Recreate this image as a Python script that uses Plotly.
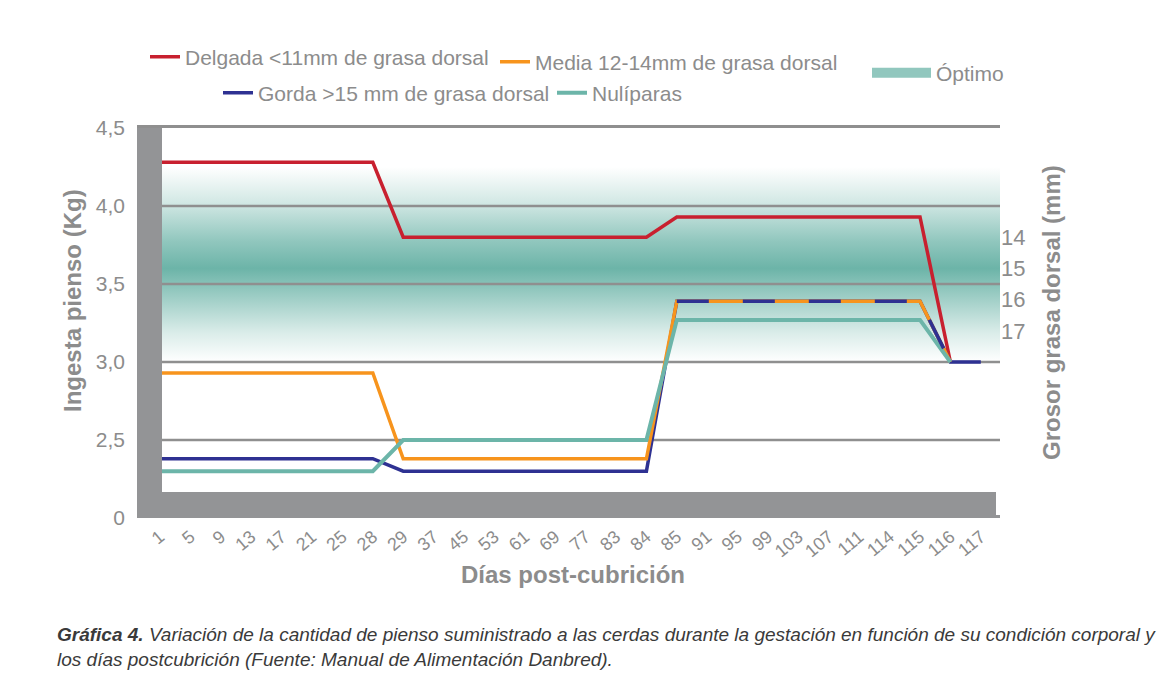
import plotly.graph_objects as go

# ---------------- data ----------------
days = [1, 5, 9, 13, 17, 21, 25, 28, 29, 37, 45, 53, 61, 69, 77, 83, 84,
        85, 91, 95, 99, 103, 107, 111, 114, 115, 116, 117]
idx = list(range(len(days)))

delgada = [4.28, 4.28, 4.28, 4.28, 4.28, 4.28, 4.28, 4.28,
           3.80, 3.80, 3.80, 3.80, 3.80, 3.80, 3.80, 3.80, 3.80,
           3.93, 3.93, 3.93, 3.93, 3.93, 3.93, 3.93, 3.93, 3.93,
           3.00, None]
media = [2.93, 2.93, 2.93, 2.93, 2.93, 2.93, 2.93, 2.93,
         2.38, 2.38, 2.38, 2.38, 2.38, 2.38, 2.38, 2.38, 2.38,
         3.39, 3.39, 3.39, 3.39, 3.39, 3.39, 3.39, 3.39, 3.39,
         3.00, None]
gorda = [2.38, 2.38, 2.38, 2.38, 2.38, 2.38, 2.38, 2.38,
         2.30, 2.30, 2.30, 2.30, 2.30, 2.30, 2.30, 2.30, 2.30,
         3.39, 3.39, 3.39, 3.39, 3.39, 3.39, 3.39, 3.39, 3.39,
         3.00, 3.00]
nuliparas = [2.30, 2.30, 2.30, 2.30, 2.30, 2.30, 2.30, 2.30,
             2.50, 2.50, 2.50, 2.50, 2.50, 2.50, 2.50, 2.50, 2.50,
             3.27, 3.27, 3.27, 3.27, 3.27, 3.27, 3.27, 3.27, 3.27,
             3.00, None]

optimo_band = [3.0, 4.25]          # Kg range of the "Óptimo" zone

y_ticks = [2.0, 2.5, 3.0, 3.5, 4.0, 4.5]
y_ticktext = ["0", "2,5", "3,0", "3,5", "4,0", "4,5"]
grid_vals = [2.5, 3.0, 3.5, 4.0]
right_ticks = [3.8, 3.6, 3.4, 3.2]
right_ticktext = ["14", "15", "16", "17"]

# ---------------- style ----------------
FONT = "Liberation Sans, Arial, sans-serif"
GRAY_TXT = "#8c8c8c"
GRAY_WALL = "#939496"
GRID = "#8f8f8f"
RED = "#c8202f"
ORANGE = "#f7941d"
BLUE = "#2e3192"
TEAL = "#6cb5a9"

W, H = 1176, 690
L, R, T, B = 137, 176, 128, 172
PW, PH = W - L - R, H - T - B


def px_x(p):
    return (p - L) / PW


def px_y(p):
    return (H - B - p) / PH


fig = go.Figure()

# Óptimo gradient band (base subplot)
teal_rgb = "108,180,168"
fig.add_trace(go.Scatter(
    x=[0, 1, 1, 0, 0],
    y=[optimo_band[0], optimo_band[0], optimo_band[1], optimo_band[1], optimo_band[0]],
    mode="lines", line=dict(width=0), fill="toself",
    fillgradient=dict(type="vertical",
                      colorscale=[[0.0, f"rgba({teal_rgb},0.0)"],
                                  [0.15, f"rgba({teal_rgb},0.25)"],
                                  [0.35, f"rgba({teal_rgb},0.7)"],
                                  [0.48, f"rgba({teal_rgb},1.0)"],
                                  [0.62, f"rgba({teal_rgb},0.75)"],
                                  [0.82, f"rgba({teal_rgb},0.3)"],
                                  [1.0, f"rgba({teal_rgb},0.0)"]]),
    fillcolor=f"rgba({teal_rgb},0.8)",
    name="Óptimo", showlegend=False, hoverinfo="skip",
    xaxis="x", yaxis="y"))
# legend entry for the band
fig.add_trace(go.Scatter(x=[None], y=[None], mode="lines", name="Óptimo",
                         line=dict(color=f"rgba({teal_rgb},0.75)", width=16),
                         legend="legend5", hoverinfo="skip",
                         xaxis="x", yaxis="y"))

# gridlines (drawn above the band, below data lines)
gx, gy = [], []
for v in grid_vals:
    gx += [0, 1, None]
    gy += [v, v, None]
fig.add_trace(go.Scatter(x=gx, y=gy, mode="lines",
                         line=dict(color=GRID, width=2.5),
                         showlegend=False, hoverinfo="skip",
                         xaxis="x", yaxis="y"))

# data lines (overlay subplot)
fig.add_trace(go.Scatter(x=idx, y=delgada, mode="lines", name="Delgada <11mm de grasa dorsal",
                         line=dict(color=RED, width=3.5), legend="legend",
                         xaxis="x2", yaxis="y2"))
fig.add_trace(go.Scatter(x=idx, y=gorda, mode="lines", name="Gorda >15 mm de grasa dorsal",
                         line=dict(color=BLUE, width=3.5), legend="legend3",
                         xaxis="x2", yaxis="y2"))
fig.add_trace(go.Scatter(x=idx, y=media, mode="lines", name="Media 12-14mm de grasa dorsal",
                         line=dict(color=ORANGE, width=3.5), legend="legend2",
                         xaxis="x2", yaxis="y2"))
fig.add_trace(go.Scatter(x=idx, y=nuliparas, mode="lines", name="Nulíparas",
                         line=dict(color=TEAL, width=4), legend="legend4",
                         xaxis="x2", yaxis="y2"))
# blue dashes where Gorda and Media coincide
fig.add_trace(go.Scatter(x=idx[17:27], y=gorda[17:27], mode="lines",
                         line=dict(color=BLUE, width=3.5, dash="32px,34px"),
                         showlegend=False, hoverinfo="skip",
                         xaxis="x2", yaxis="y2"))

xr = [-0.757, -0.757 + PW / 30.4]
yr = [2.0, 4.5]

legend_common = dict(orientation="h", xanchor="left", yanchor="middle",
                     bgcolor="rgba(0,0,0,0)",
                     font=dict(family=FONT, size=21, color=GRAY_TXT))

fig.update_layout(
    width=W, height=H,
    margin=dict(l=L, r=R, t=T, b=B),
    paper_bgcolor="white", plot_bgcolor="rgba(0,0,0,0)",
    font=dict(family=FONT, color=GRAY_TXT),
    xaxis=dict(range=[0, 1], side="top", showline=True, linecolor=GRID, linewidth=2.5,
               showticklabels=False, ticks="", showgrid=False, zeroline=False),
    yaxis=dict(range=yr, tickvals=y_ticks, ticktext=y_ticktext, showgrid=False,
               zeroline=False, ticks="", ticklabelstandoff=11,
               tickfont=dict(family=FONT, size=21, color=GRAY_TXT)),
    xaxis2=dict(overlaying="x", side="bottom", range=xr, tickvals=idx,
                ticktext=[str(d) for d in days], tickangle=-40, showgrid=False,
                zeroline=False, ticks="", ticklabelstandoff=4,
                tickfont=dict(family=FONT, size=18, color=GRAY_TXT)),
    yaxis2=dict(overlaying="y", side="right", range=yr, tickvals=right_ticks,
                ticktext=right_ticktext, showgrid=False, zeroline=False, ticks="",
                ticklabelstandoff=0,
                tickfont=dict(family=FONT, size=22, color=GRAY_TXT)),
    legend=dict(x=px_x(145), y=px_y(57), **legend_common),
    legend2=dict(x=px_x(495), y=px_y(62), **legend_common),
    legend3=dict(x=px_x(218), y=px_y(93), **legend_common),
    legend4=dict(x=px_x(552), y=px_y(93), **legend_common),
    legend5=dict(x=px_x(867), y=px_y(73), itemwidth=59, **legend_common),
    shapes=[
        dict(type="rect", xref="paper", yref="paper", layer="above",
             x0=0, x1=px_x(162), y0=0, y1=1, fillcolor=GRAY_WALL, line=dict(width=0)),
        dict(type="rect", xref="paper", yref="paper", layer="above",
             x0=0, x1=px_x(996), y0=0, y1=px_y(492), fillcolor=GRAY_WALL, line=dict(width=0)),
        dict(type="rect", xref="paper", yref="paper", layer="above",
             x0=0, x1=1, y0=0, y1=px_y(515), fillcolor=GRAY_WALL, line=dict(width=0)),
    ],
    annotations=[
        dict(text="<b>Ingesta pienso (Kg)</b>", xref="paper", yref="paper",
             x=px_x(72), y=px_y(301), textangle=-90, showarrow=False,
             xanchor="center", yanchor="middle",
             font=dict(family=FONT, size=24, color=GRAY_TXT)),
        dict(text="<b>Grosor grasa dorsal (mm)</b>", xref="paper", yref="paper",
             x=px_x(1051), y=px_y(313), textangle=-90, showarrow=False,
             xanchor="center", yanchor="middle",
             font=dict(family=FONT, size=24, color=GRAY_TXT)),
        dict(text="<b>Días post-cubrición</b>", xref="paper", yref="paper",
             x=px_x(573), y=px_y(574), showarrow=False,
             xanchor="center", yanchor="middle",
             font=dict(family=FONT, size=24, color=GRAY_TXT)),
        dict(text="<b><i>Gráfica 4.</i></b><i> Variación de la cantidad de pienso suministrado a las cerdas durante la gestación en función de su condición corporal y</i>"
                  "<br><i>los días postcubrición (Fuente: Manual de Alimentación Danbred).</i>",
             xref="paper", yref="paper", x=px_x(55), y=px_y(647), showarrow=False,
             xanchor="left", yanchor="middle", align="left",
             font=dict(family=FONT, size=19, color="#3a3a3a")),
    ],
)

fig.write_html("out.html")
